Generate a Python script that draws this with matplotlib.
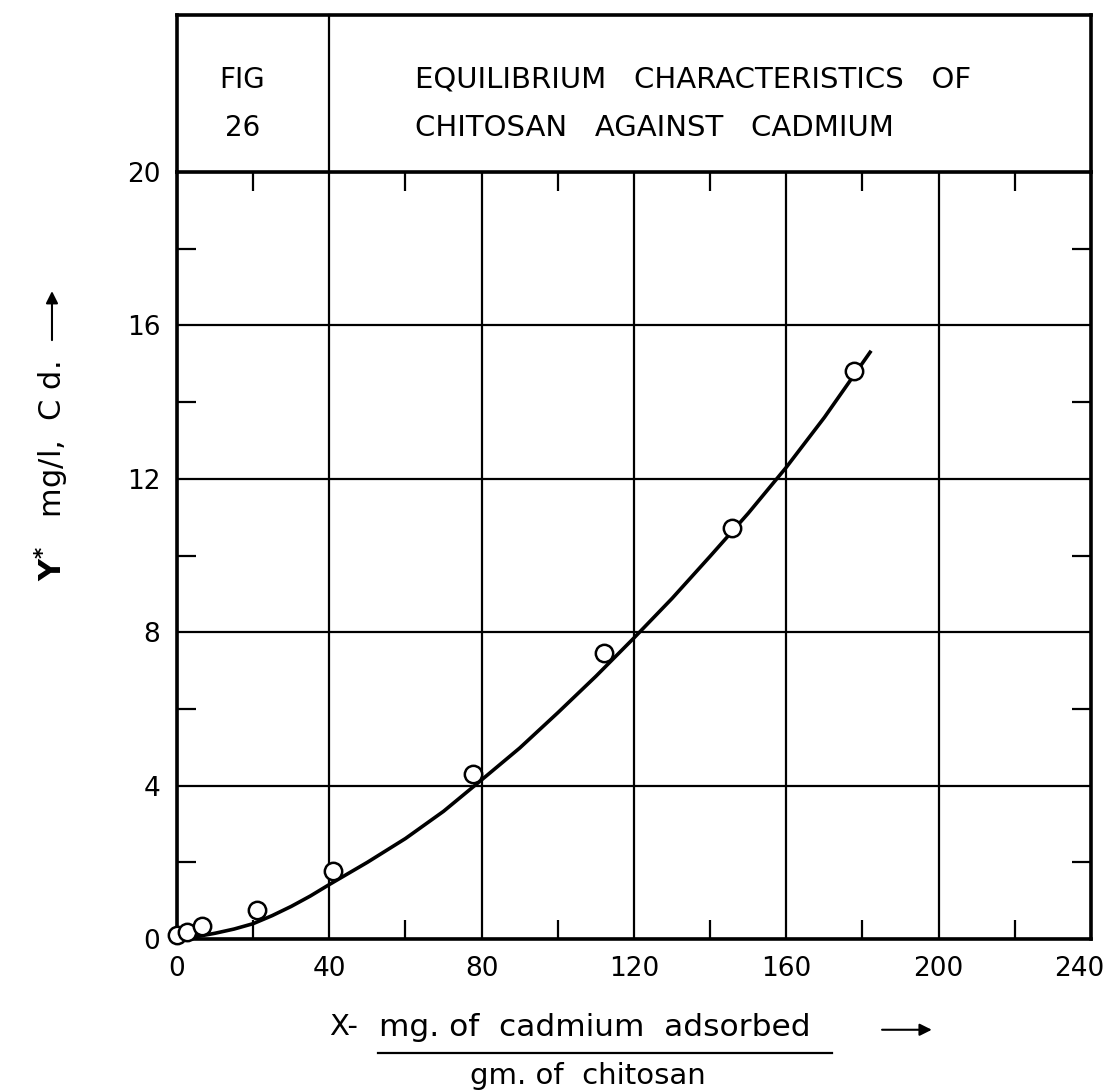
import matplotlib
matplotlib.use("Agg")
import matplotlib.pyplot as plt
import matplotlib.transforms as mtransforms

plt.rcParams['font.family'] = ['DejaVu Sans']

# Observed data points (x: mg Cd adsorbed / g chitosan, y: Y* mg/l Cd)
x_obs = [0.0, 2.7, 6.6, 21.1, 40.9, 77.8, 112.1, 145.7, 177.7]
y_obs = [0.1, 0.18, 0.33, 0.76, 1.78, 4.31, 7.46, 10.73, 14.81]

# Hand-drawn fitted curve
x_fit = [0, 5, 10, 15, 20, 25, 30, 35, 40, 50, 60, 70, 80, 90, 100, 110, 120, 130, 140, 150, 160, 170, 176, 182]
y_fit = [0.0, 0.06, 0.15, 0.26, 0.40, 0.61, 0.85, 1.12, 1.42, 2.0, 2.62, 3.33, 4.15, 4.98, 5.9, 6.85, 7.85, 8.88, 9.98, 11.1, 12.3, 13.6, 14.45, 15.3]

x_ticks = [0, 40, 80, 120, 160, 200, 240]
y_ticks = [0, 4, 8, 12, 16, 20]
x_minor = [20, 60, 100, 140, 180, 220]
y_minor = [2, 6, 10, 14, 18]

fig = plt.figure(figsize=(11.06, 10.92), dpi=100)
ax = fig.add_axes([0.160, 0.1401, 0.8264, 0.7024])
ax.set_xlim(0, 240)
ax.set_ylim(0, 20)

ax.set_xticks(x_ticks)
ax.set_yticks(y_ticks)
ax.set_xticks(x_minor, minor=True)
ax.set_yticks(y_minor, minor=True)
ax.tick_params(which='major', length=0, labelsize=19, pad=12)
ax.tick_params(which='minor', direction='in', length=14, width=1.6,
               top=True, right=True, bottom=True, left=True)
ax.grid(True, which='major', color='black', linewidth=1.6)
for s in ax.spines.values():
    s.set_linewidth(2.6)

# shift last x tick label left so it stays inside the figure
last = ax.get_xticklabels()[-1]
last.set_transform(last.get_transform() +
                   mtransforms.ScaledTranslation(-12 / 100, 0, fig.dpi_scale_trans))

ax.plot(x_fit, y_fit, color='black', linewidth=2.6, zorder=3)
ax.plot(x_obs, y_obs, linestyle='none', marker='o', markersize=12.5,
        markerfacecolor='white', markeredgecolor='black', markeredgewidth=1.8,
        zorder=4, clip_on=False)

# Title box above the plot
top = 24.1
kw = dict(color='black', clip_on=False, solid_capstyle='projecting')
ax.plot([0, 240], [top, top], linewidth=2.6, **kw)
ax.plot([0, 0], [20, top], linewidth=2.6, **kw)
ax.plot([240, 240], [20, top], linewidth=2.6, **kw)
ax.plot([40, 40], [20, top], linewidth=1.6, **kw)
ax.text(11, 22.4, "FIG", fontsize=20, va='center', ha='left')
ax.text(12.5, 21.15, "26", fontsize=20, va='center', ha='left')
ax.text(62.5, 22.4, "EQUILIBRIUM   CHARACTERISTICS   OF", fontsize=21, va='center', ha='left')
ax.text(62.5, 21.15, "CHITOSAN   AGAINST   CADMIUM", fontsize=21, va='center', ha='left')

# Y label with arrow
fig.text(0.047, 0.568, r"$\mathbf{Y^{*}}$   mg/l,  C d.", rotation=90, fontsize=22,
         ha='center', va='center')
fig.add_artist(matplotlib.patches.FancyArrowPatch(
    (0.047, 0.686), (0.047, 0.736), transform=fig.transFigure,
    arrowstyle='-|>', mutation_scale=18, color='black', linewidth=1.5))

# X label as fraction with arrow
fig.text(0.298, 0.0595, "X-", fontsize=21, ha='left', va='center')
fig.text(0.343, 0.0595, "mg. of  cadmium  adsorbed", fontsize=22.5, ha='left', va='center')
fig.add_artist(matplotlib.lines.Line2D([0.342, 0.752], [0.036, 0.036],
                                       transform=fig.transFigure, color='black', linewidth=1.6))
fig.text(0.425, 0.015, "gm. of  chitosan", fontsize=21, ha='left', va='center')
fig.add_artist(matplotlib.patches.FancyArrowPatch(
    (0.795, 0.057), (0.845, 0.057), transform=fig.transFigure,
    arrowstyle='-|>', mutation_scale=18, color='black', linewidth=1.5))

fig.savefig("out.png", dpi=100, facecolor='white')
